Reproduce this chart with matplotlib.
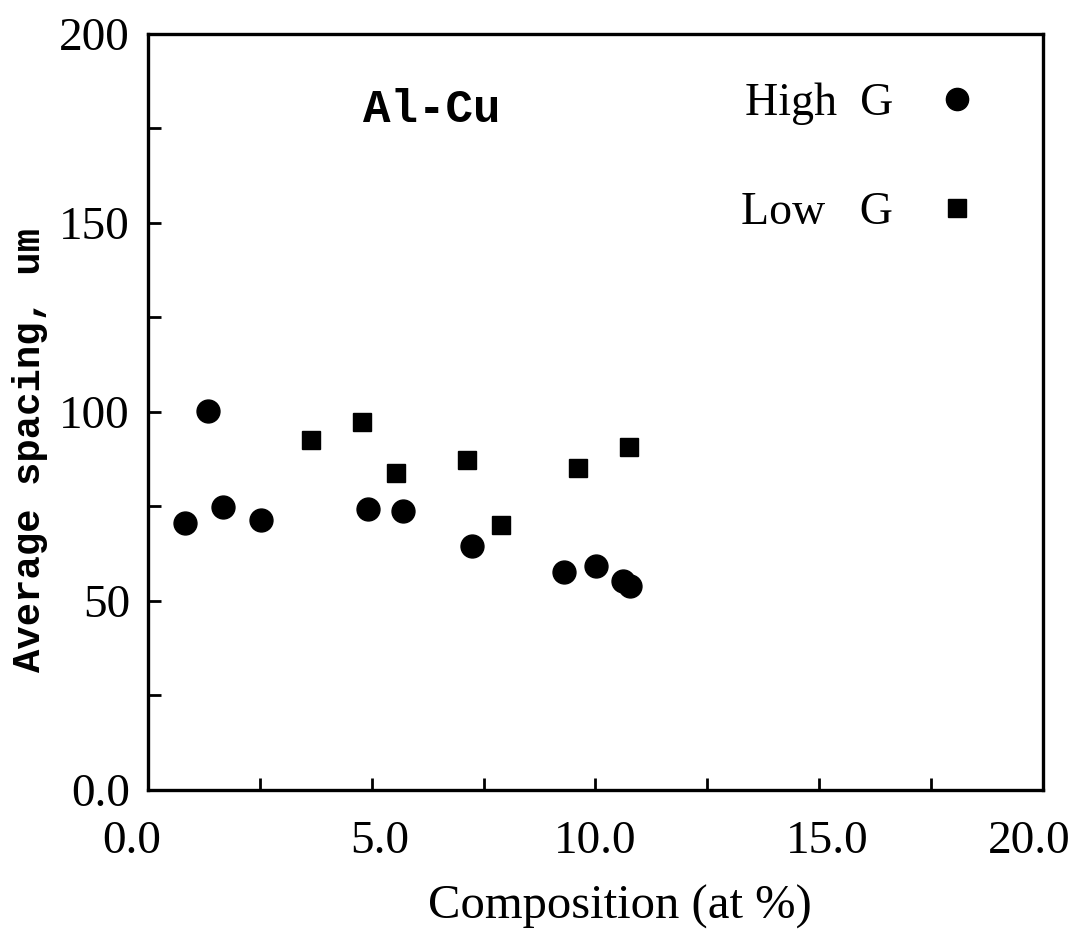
import matplotlib
matplotlib.use("Agg")
import matplotlib.pyplot as plt
import matplotlib.transforms as mtransforms
from matplotlib.lines import Line2D

# High G (circles)
high_x = [0.83, 1.34, 1.67, 2.52, 4.91, 5.69, 7.25, 9.29, 10.02, 10.62, 10.78]
high_y = [70.6, 100.3, 74.8, 71.4, 74.3, 73.7, 64.5, 57.6, 59.2, 55.2, 54.0]

# Low G (squares)
low_x = [3.64, 4.78, 5.54, 7.14, 7.90, 9.62, 10.74]
low_y = [92.6, 97.3, 83.8, 87.3, 70.0, 85.1, 90.7]

xticks = [0, 2.5, 5, 7.5, 10, 12.5, 15, 17.5, 20]
xticklabels = ["0.0", "", "5.0", "", "10.0", "", "15.0", "", "20.0"]
yticks = [0, 25, 50, 75, 100, 125, 150, 175, 200]
yticklabels = ["0.0", "", "50", "", "100", "", "150", "", "200"]

serif = "Liberation Serif"
mono = "Liberation Mono"

fig = plt.figure(figsize=(10.77, 9.33), dpi=100)
ax = fig.add_axes([0.1374, 0.1533, 0.831, 0.8103])

ax.plot(high_x, high_y, "o", color="black", markersize=16.5, linestyle="none")
ax.plot(low_x, low_y, "s", color="black", markersize=13.5, linestyle="none")

ax.set_xlim(0, 20)
ax.set_ylim(0, 200)
ax.set_xticks(xticks)
ax.set_xticklabels(xticklabels, family=serif, fontsize=34)
ax.set_yticks(yticks)
ax.set_yticklabels(yticklabels, family=serif, fontsize=34)
ax.tick_params(direction="in", length=9, width=2, top=False, right=False)
ax.tick_params(axis="x", pad=22)
ax.tick_params(axis="y", pad=13)
for sp in ax.spines.values():
    sp.set_linewidth(2.4)

# the scanned labels are not quite centred on their ticks (pixels)
x_offsets = [-16, 0, 8, 0, 0, 0, 8, 0, -14]
for lab, dx in zip(ax.get_xticklabels(), x_offsets):
    shift = mtransforms.ScaledTranslation(dx / 100, 0, fig.dpi_scale_trans)
    lab.set_transform(lab.get_transform() + shift)

ax.set_xlabel("Composition (at %)", family=serif, fontsize=35)
ax.xaxis.set_label_coords(0.527, -0.125)
ax.set_ylabel("Average spacing, um", family=mono, fontweight="bold", fontsize=28)
ax.yaxis.set_label_coords(-0.112, 0.45)

ax.text(0.317, 0.9, "Al-Cu", transform=ax.transAxes, family=mono, fontweight="bold",
        fontsize=33, ha="center", va="center")

handles = [
    Line2D([], [], marker="o", color="black", linestyle="none", markersize=16),
    Line2D([], [], marker="s", color="black", linestyle="none", markersize=13),
]
ax.legend(handles, ["High  G", "Low   G"], loc="upper right", bbox_to_anchor=(0.95, 0.96),
          markerfirst=False, frameon=False, prop={"family": serif, "size": 33},
          handlelength=1.0, handletextpad=0.9, labelspacing=1.45, borderaxespad=0)

fig.savefig("out.png", dpi=100)
